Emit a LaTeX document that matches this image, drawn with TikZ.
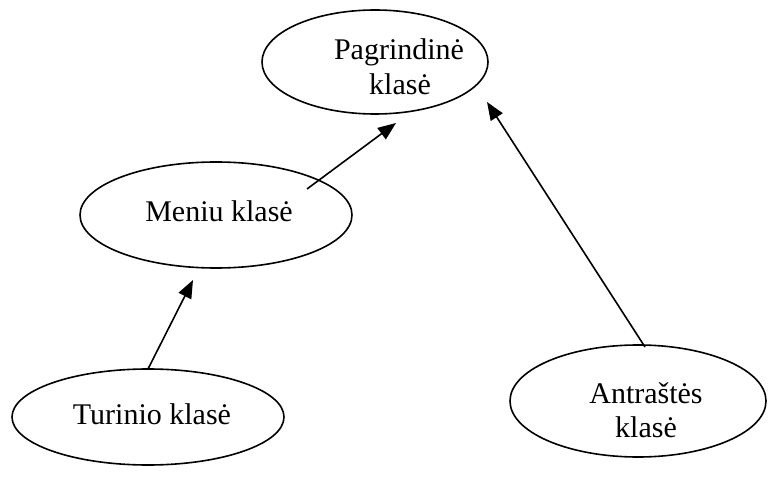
\documentclass[tikz,border=0pt]{standalone}
\usepackage{fontspec}
\setmainfont{Liberation Serif}
\usetikzlibrary{arrows.meta,shapes.geometric}
\begin{document}
\begin{tikzpicture}[x=1pt,y=-1pt,
  oval/.style={draw=black,line width=1.6pt,ellipse,inner sep=0pt},
  lbl/.style={anchor=base,inner sep=0pt,font=\fontsize{30}{35}\selectfont},
  link/.style={line width=1.6pt,-{Triangle[length=18pt,width=14pt]}}]
  \useasboundingbox (0,0) rectangle (774,481);

  % class ovals
  \node[oval,minimum width=226pt,minimum height=104pt] (main) at (375,62) {};
  \node[oval,minimum width=272pt,minimum height=106pt] (menu) at (216,215) {};
  \node[oval,minimum width=272pt,minimum height=96pt]  (body) at (148,417) {};
  \node[oval,minimum width=256pt,minimum height=112pt] (head) at (638,401) {};

  % labels
  \node[lbl] (mainA) at (399,60) {Pagrindinė};
  \node[lbl] (mainB) at (400,95) {klasė};
  \node[lbl] (menuA) at (219,222) {Meniu klasė};
  \node[lbl] (bodyA) at (152,424) {Turinio klasė};
  \node[lbl] (headA) at (646,403) {Antraštės};
  \node[lbl] (headB) at (646,437) {klasė};

  % connector ends
  \coordinate (m1) at (307,189);
  \coordinate (m2) at (396,123);
  \coordinate (b1) at (148,369);
  \coordinate (b2) at (193,280);
  \coordinate (h1) at (645,347);
  \coordinate (h2) at (487,102);

  \draw[link] (m1) -- (m2);
  \draw[link] (b1) -- (b2);
  \draw[link] (h1) -- (h2);
\end{tikzpicture}
\end{document}
